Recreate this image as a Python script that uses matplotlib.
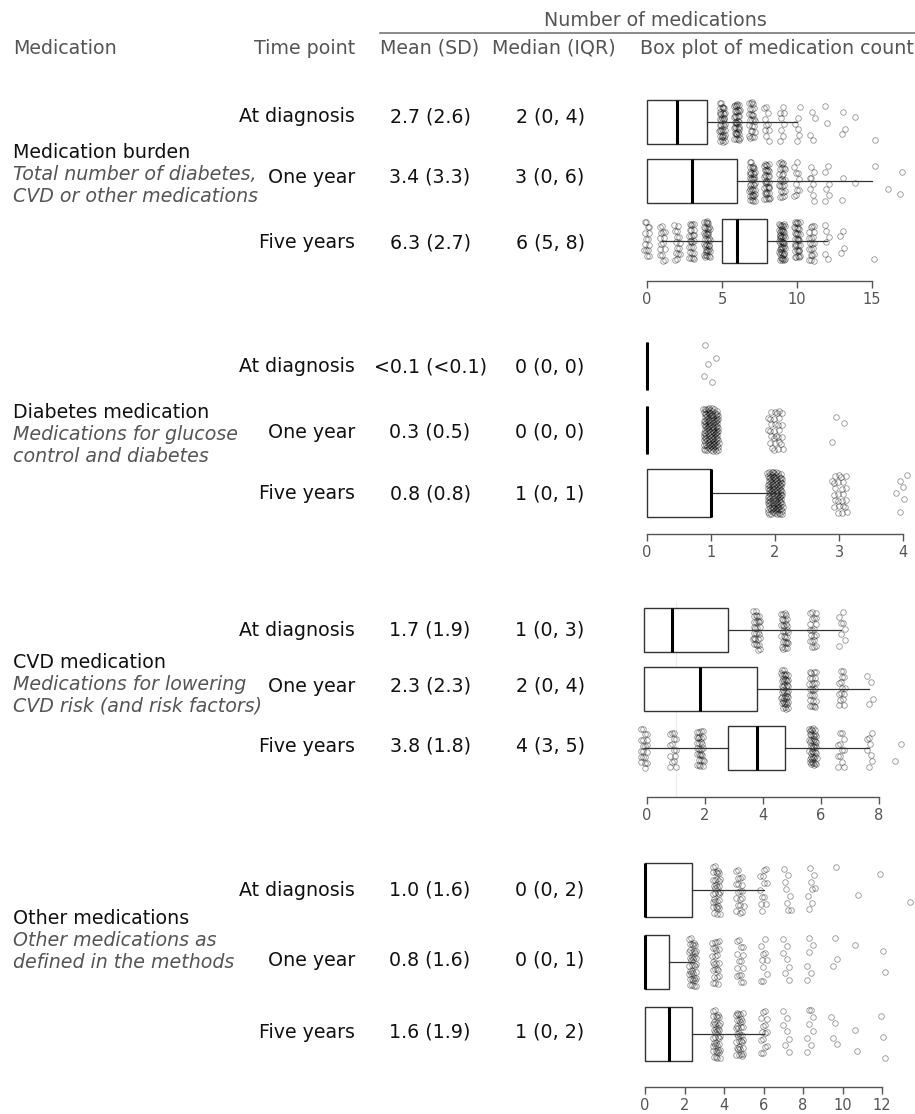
import matplotlib
matplotlib.use("Agg")
import matplotlib.pyplot as plt

W, H = 915, 1114

# ---- table text ----
groups = ["Medication burden", "Diabetes medication", "CVD medication", "Other medications"]
subtitles = [
    "Total number of diabetes,\nCVD or other medications",
    "Medications for glucose\ncontrol and diabetes",
    "Medications for lowering\nCVD risk (and risk factors)",
    "Other medications as\ndefined in the methods",
]
time_points = ["At diagnosis", "One year", "Five years"]
mean_sd = [
    ["2.7 (2.6)", "3.4 (3.3)", "6.3 (2.7)"],
    ["<0.1 (<0.1)", "0.3 (0.5)", "0.8 (0.8)"],
    ["1.7 (1.9)", "2.3 (2.3)", "3.8 (1.8)"],
    ["1.0 (1.6)", "0.8 (1.6)", "1.6 (1.9)"],
]
median_iqr = [
    ["2 (0, 4)", "3 (0, 6)", "6 (5, 8)"],
    ["0 (0, 0)", "0 (0, 0)", "1 (0, 1)"],
    ["1 (0, 3)", "2 (0, 4)", "4 (3, 5)"],
    ["0 (0, 2)", "0 (0, 1)", "1 (0, 2)"],
]

# ---- box plot values (as drawn) ----
burden_q1 = [0, 0, 5]
burden_med = [2, 3, 6]
burden_q3 = [4, 6, 8]
burden_lo = [0, 0, 1]
burden_hi = [10, 15, 12]
burden_pts = [
    [(5, 40), (6, 40), (7, 25), (8, 10), (9, 8), (10, 6), (11, 4), (12, 2), (13, 3), (14, 1), (15, 1)],
    [(7, 40), (8, 35), (9, 25), (10, 10), (11, 8), (12, 6), (13, 2), (14, 1), (15, 1), (16, 1), (17, 2)],
    [(0, 15), (1, 15), (2, 15), (3, 25), (4, 40), (9, 50), (10, 35), (11, 20), (12, 6), (13, 4), (15, 1)],
]
burden_ticks = [0, 5, 10, 15]

diab_q1 = [0, 0, 0]
diab_med = [0, 0, 1]
diab_q3 = [0, 0, 1]
diab_lo = [0, 0, 0]
diab_hi = [0, 0, 2]
diab_pts = [
    [(1, 5)],
    [(1, 120), (2, 30), (3, 3)],
    [(2, 120), (3, 25), (4, 6)],
]
diab_ticks = [0, 1, 2, 3, 4]

cvd_q1 = [-0.1, -0.1, 2.81]
cvd_med = [0.87, 1.84, 3.78]
cvd_q3 = [2.81, 3.78, 4.75]
cvd_lo = [-0.1, -0.1, -0.1]
cvd_hi = [6.69, 7.66, 7.66]
cvd_pts = [
    [(3.78, 30), (4.75, 30), (5.72, 20), (6.69, 8)],
    [(4.75, 45), (5.72, 25), (6.69, 15), (7.66, 4)],
    [(-0.1, 20), (0.87, 15), (1.84, 30), (5.72, 45), (6.69, 12), (7.66, 8), (8.63, 2)],
]
cvd_ticks = [0, 2, 4, 6, 8]

other_q1 = [0, 0, 0]
other_med = [0, 0, 1.2]
other_q3 = [2.4, 1.2, 2.4]
other_lo = [0, 0, 0]
other_hi = [6.0, 2.4, 6.0]
other_pts = [
    [(3.6, 35), (4.8, 20), (6.0, 12), (7.2, 8), (8.4, 8), (9.6, 1), (10.8, 1), (12.0, 1), (13.2, 1)],
    [(2.4, 40), (3.6, 25), (4.8, 15), (6.0, 10), (7.2, 7), (8.4, 6), (9.6, 3), (10.8, 1), (12.0, 2)],
    [(3.6, 40), (4.8, 35), (6.0, 15), (7.2, 7), (8.4, 8), (9.6, 4), (10.8, 2), (12.0, 3)],
]
other_ticks = [0, 2, 4, 6, 8, 10, 12]

# layout per panel (pixels): first box centre, row spacing, box height, axis line, x of zero, px per unit, jitter
panels = [
    dict(q1=burden_q1, med=burden_med, q3=burden_q3, lo=burden_lo, hi=burden_hi, pts=burden_pts,
         ticks=burden_ticks, c0=122, s=59.5, h=44, axis=281, x0=647, ppu=15.0, jx=0.2),
    dict(q1=diab_q1, med=diab_med, q3=diab_q3, lo=diab_lo, hi=diab_hi, pts=diab_pts,
         ticks=diab_ticks, c0=366, s=63.5, h=48, axis=534, x0=647, ppu=64.0, jx=0.12),
    dict(q1=cvd_q1, med=cvd_med, q3=cvd_q3, lo=cvd_lo, hi=cvd_hi, pts=cvd_pts,
         ticks=cvd_ticks, c0=630, s=59, h=44, axis=797, x0=647, ppu=29.0, jx=0.13),
    dict(q1=other_q1, med=other_med, q3=other_q3, lo=other_lo, hi=other_hi, pts=other_pts,
         ticks=other_ticks, c0=890, s=72, h=54, axis=1087, x0=645, ppu=19.75, jx=0.2),
]

row_text_y = [[117, 177, 243], [367, 432, 494], [630, 686, 746], [890, 960, 1032]]
group_y = [152, 412, 662, 918]

FS = 13.7
GRAY = "#555555"
INK = "#111111"


def px(x, y):
    return x / W, 1 - y / H


fig = plt.figure(figsize=(W / 100, H / 100), dpi=100)

# header
fig.text(*px(655, 20), "Number of medications", ha="center", va="center", fontsize=FS, color=GRAY)
fig.add_artist(plt.Line2D([380 / W, 1.0], [1 - 33 / H, 1 - 33 / H], color="#777777", lw=1.2))
fig.text(*px(13, 48), "Medication", ha="left", va="center", fontsize=FS, color=GRAY)
fig.text(*px(355, 48), "Time point", ha="right", va="center", fontsize=FS, color=GRAY)
fig.text(*px(430, 48), "Mean (SD)", ha="center", va="center", fontsize=FS, color=GRAY)
fig.text(*px(554, 48), "Median (IQR)", ha="center", va="center", fontsize=FS, color=GRAY)
fig.text(*px(777, 48), "Box plot of medication count", ha="center", va="center", fontsize=FS, color=GRAY)

for g in range(4):
    fig.text(*px(13, group_y[g]), groups[g], ha="left", va="center", fontsize=FS, color=INK)
    fig.text(*px(13, group_y[g] + 13), subtitles[g], ha="left", va="top", fontsize=FS,
             color=GRAY, style="italic", linespacing=1.2)
    for r in range(3):
        y = row_text_y[g][r]
        fig.text(*px(355, y), time_points[r], ha="right", va="center", fontsize=FS, color=INK)
        fig.text(*px(430, y), mean_sd[g][r], ha="center", va="center", fontsize=FS, color=INK)
        fig.text(*px(550, y), median_iqr[g][r], ha="center", va="center", fontsize=FS, color=INK)

for g, p in enumerate(panels):
    top = p["c0"] - p["h"] / 2 - 6
    ax = fig.add_axes([640 / W, 1 - p["axis"] / H, 275 / W, (p["axis"] - top) / H])
    ax.set_xlim((640 - p["x0"]) / p["ppu"], (915 - p["x0"]) / p["ppu"])
    ax.set_ylim((p["axis"] - p["c0"]) / p["s"], (top - p["c0"]) / p["s"])
    bw = p["h"] / p["s"]

    # jittered observations (deterministic low-discrepancy offsets)
    for r in range(3):
        xs, ys = [], []
        k = 0
        for v, n in p["pts"][r]:
            for j in range(n):
                k += 1
                xs.append(v + ((k * 0.7548776662 + 0.31) % 1 - 0.5) * 2 * p["jx"])
                ys.append(r + ((k * 0.5698402910 + 0.17) % 1 - 0.5) * 0.9 * bw)
        ax.plot(xs, ys, "o", ms=4, mfc="none", mec=(0, 0, 0, 0.42), mew=0.6,
                zorder=2, clip_on=False)

    if g == 2:
        ax.axvline(1.0, color="#ececec", lw=0.8, zorder=0)

    stats = []
    for r in range(3):
        stats.append(dict(med=p["med"][r], q1=p["q1"][r], q3=p["q3"][r],
                          whislo=p["lo"][r], whishi=p["hi"][r], fliers=[]))
    kw = dict(positions=[0, 1, 2], widths=bw, showcaps=False, showfliers=False,
              patch_artist=True, manage_ticks=False,
              boxprops=dict(facecolor="white", edgecolor="#333333", lw=1.0),
              medianprops=dict(color="black", lw=2.2, solid_capstyle="butt"),
              whiskerprops=dict(color="#333333", lw=0.9))
    try:
        arts = ax.bxp(stats, orientation="horizontal", **kw)
    except TypeError:
        arts = ax.bxp(stats, vert=False, **kw)
    for k in arts:
        for a in arts[k]:
            a.set_zorder(3)

    for side in ["top", "right", "left"]:
        ax.spines[side].set_visible(False)
    ax.spines["bottom"].set_bounds(p["ticks"][0], p["ticks"][-1])
    ax.spines["bottom"].set_color(GRAY)
    ax.spines["bottom"].set_linewidth(1.0)
    ax.set_xticks(p["ticks"])
    ax.set_xticklabels([str(t) for t in p["ticks"]])
    ax.tick_params(axis="x", direction="out", length=5, width=1.0, color=GRAY,
                   labelcolor=GRAY, labelsize=10.5, pad=3)
    ax.set_yticks([])
    ax.patch.set_alpha(0)

fig.savefig("out.png", dpi=100)
